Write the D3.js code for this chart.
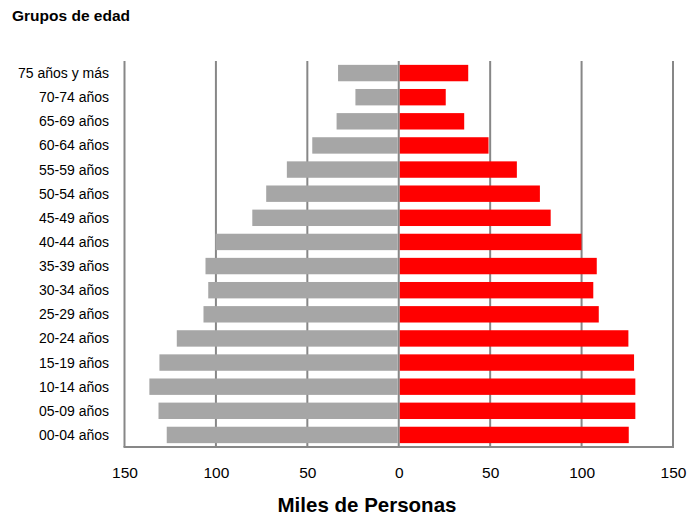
<!DOCTYPE html>
<html lang="es">
<head>
<meta charset="UTF-8">
<title>Pirámide de población</title>
<script src="https://cdn.jsdelivr.net/npm/d3@7"></script>
<style>
  body { margin: 0; background: #fff; }
  svg { font-family: "Liberation Sans", Arial, sans-serif; }
</style>
</head>
<body>
<script>
// grupos de edad, de arriba hacia abajo
const grupos = ["75 años y más", "70-74 años", "65-69 años", "60-64 años", "55-59 años",
  "50-54 años", "45-49 años", "40-44 años", "35-39 años", "30-34 años", "25-29 años",
  "20-24 años", "15-19 años", "10-14 años", "05-09 años", "00-04 años"]
// miles de personas
const hombres = [33.2, 23.7, 34.0, 47.3, 61.2, 72.5, 80.1, 100.2, 105.7, 104.2, 106.8, 121.4, 130.9, 136.4, 131.4, 126.9]
const mujeres = [38.0, 25.7, 35.8, 49.1, 64.6, 77.2, 83.1, 99.9, 108.3, 106.4, 109.4, 125.6, 128.7, 129.4, 129.4, 125.8]
const ticks = [-150, -100, -50, 0, 50, 100, 150]

const w = 688, h = 516
const pLeft = 124.5, pRight = 673, pTop = 61, pBottom = 447

const svg = d3.select("body").append("svg").attr("width", w).attr("height", h)

const x = d3.scaleLinear().domain([-150, 150]).range([pLeft, pRight])
const y = d3.scaleBand().domain(grupos).range([pTop, pBottom]).paddingInner(0.32).paddingOuter(0.16)

// grid
svg.append("g")
  .selectAll("line")
  .data(ticks)
  .enter().append("line")
  .attr("x1", d => x(d)).attr("x2", d => x(d))
  .attr("y1", pTop).attr("y2", pBottom)
  .attr("stroke", "#878787").attr("stroke-width", 2)

// barras
svg.append("g")
  .selectAll("rect")
  .data(grupos)
  .enter().append("rect")
  .attr("x", (d, i) => x(-hombres[i]))
  .attr("y", d => y(d))
  .attr("width", (d, i) => x(0) - 1 - x(-hombres[i]))
  .attr("height", y.bandwidth())
  .attr("fill", "#a6a6a6")

svg.append("g")
  .selectAll("rect")
  .data(grupos)
  .enter().append("rect")
  .attr("x", x(0) + 1)
  .attr("y", d => y(d))
  .attr("width", (d, i) => x(mujeres[i]) - x(0) - 1)
  .attr("height", y.bandwidth())
  .attr("fill", "#ff0000")

// eje inferior
svg.append("line")
  .attr("x1", pLeft - 1).attr("x2", pRight + 1)
  .attr("y1", pBottom).attr("y2", pBottom)
  .attr("stroke", "#878787").attr("stroke-width", 2)

const xAxis = d3.axisBottom(x).tickValues(ticks).tickSize(0).tickPadding(20)
  .tickFormat(d => Math.abs(d))
svg.append("g")
  .attr("transform", `translate(0, ${pBottom})`)
  .call(xAxis)
  .call(g => g.select(".domain").remove())
  .call(g => g.selectAll("text").attr("font-size", 15.5).attr("font-family", "Liberation Sans, sans-serif").attr("fill", "#000"))

// etiquetas de grupos
svg.append("g")
  .selectAll("text")
  .data(grupos)
  .enter().append("text")
  .attr("x", 109)
  .attr("y", d => y(d) + y.bandwidth() / 2)
  .attr("dy", "0.36em")
  .attr("text-anchor", "end")
  .attr("font-size", 14)
  .attr("fill", "#000")
  .text(d => d)

svg.append("text")
  .attr("x", 12).attr("y", 20.5)
  .attr("font-size", 15.5).attr("font-weight", "bold")
  .text("Grupos de edad")

svg.append("text")
  .attr("x", 367).attr("y", 512)
  .attr("text-anchor", "middle")
  .attr("font-size", 20.5).attr("font-weight", "bold")
  .text("Miles de Personas")
</script>
</body>
</html>
